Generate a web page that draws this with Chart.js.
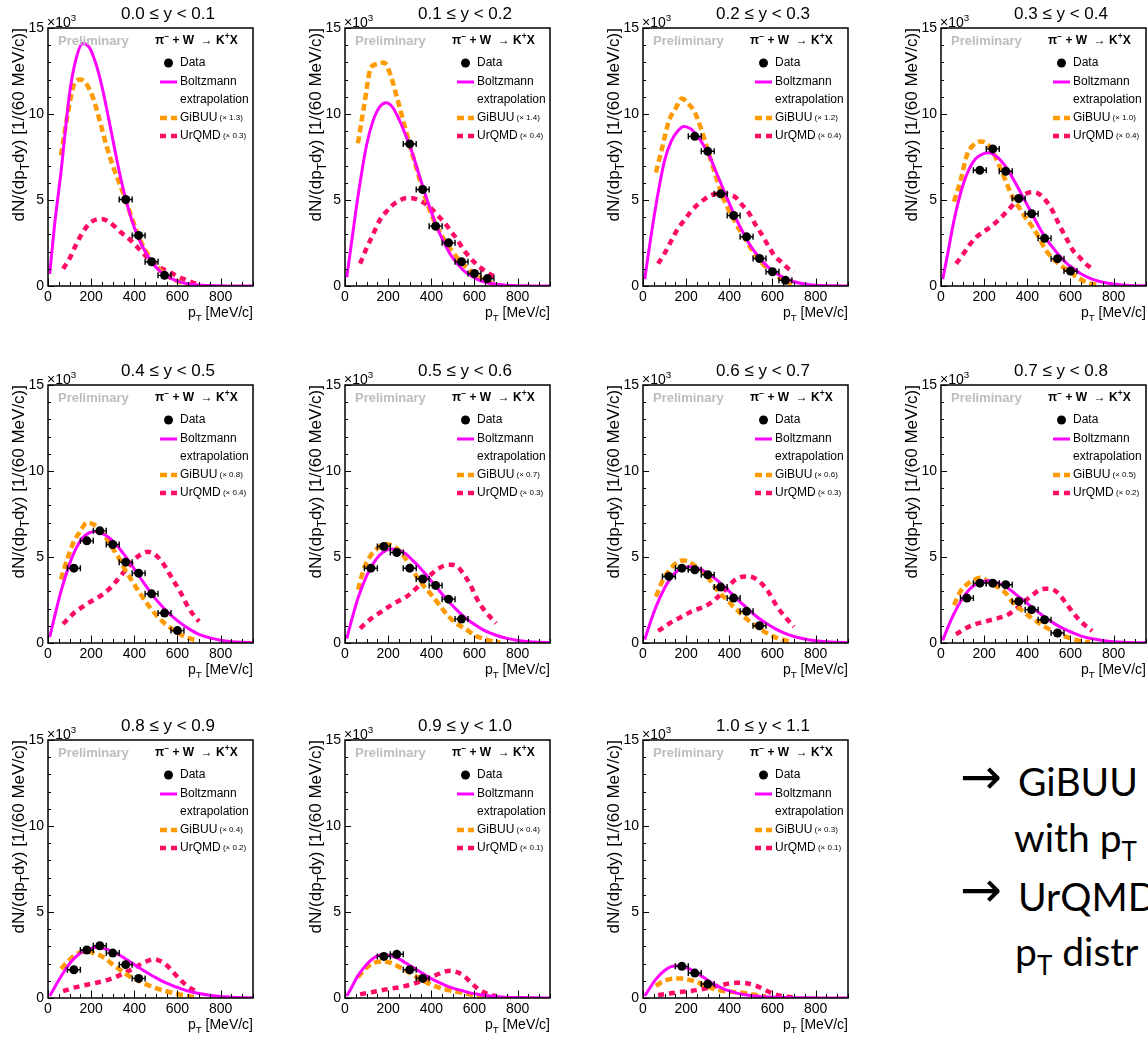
<!DOCTYPE html>
<html><head><meta charset="utf-8">
<script src="https://cdn.jsdelivr.net/npm/chart.js"></script>
<style>
html,body{margin:0;padding:0;background:#fff;}
body{width:1148px;height:1040px;overflow:hidden;position:relative;}
.panel{position:absolute;width:298px;height:330px;}
.note{position:absolute;font-family:Lato,'Open Sans',sans-serif;font-size:39px;color:#000;white-space:nowrap;line-height:1;}
.note sub{font-size:26px;vertical-align:-9px;line-height:0;}
.arrow{position:absolute;font-family:'DejaVu Sans',sans-serif;font-size:50px;color:#000;line-height:1;}
</style></head><body>
<div class="arrow" style="left:960px;top:752px;">→</div>
<div class="note" style="left:1018px;top:762px;">GiBUU</div>
<div class="note" style="left:1014px;top:818px;">with p<sub>T</sub></div>
<div class="arrow" style="left:960px;top:865px;">→</div>
<div class="note" style="left:1018px;top:877px;">UrQMD</div>
<div class="note" style="left:1015px;top:932px;">p<sub>T</sub> distr</div>
<script>
// ---------------- data ----------------
const RAPIDITY_BINS = ['0.0 ≤ y < 0.1','0.1 ≤ y < 0.2','0.2 ≤ y < 0.3','0.3 ≤ y < 0.4','0.4 ≤ y < 0.5','0.5 ≤ y < 0.6','0.6 ≤ y < 0.7','0.7 ≤ y < 0.8','0.8 ≤ y < 0.9','0.9 ≤ y < 1.0','1.0 ≤ y < 1.1'];
const GIBUU_FACTOR = ['1.3','1.4','1.2','1.0','0.8','0.7','0.6','0.5','0.4','0.4','0.3'];
const URQMD_FACTOR = ['0.3','0.4','0.4','0.4','0.4','0.3','0.3','0.2','0.2','0.1','0.1'];

const DATA_PT = [
  [360,420,480,540],
  [300,360,420,480,540,600,660],
  [240,300,360,420,480,540,600,660],
  [180,240,300,360,420,480,540,600],
  [120,180,240,300,360,420,480,540,600],
  [120,180,240,300,360,420,480,540],
  [120,180,240,300,360,420,480,540],
  [120,180,240,300,360,420,480,540],
  [120,180,240,300,360,420],
  [180,240,300,360],
  [180,240,300]
];
const DATA_YIELD = [
  [5.03,2.94,1.41,0.62],
  [8.26,5.61,3.48,2.51,1.41,0.73,0.43],
  [8.7,7.83,5.36,4.10,2.86,1.60,0.83,0.33],
  [6.73,7.97,6.67,5.09,4.20,2.77,1.59,0.87],
  [4.35,5.94,6.52,5.73,4.70,4.06,2.86,1.74,0.72],
  [4.35,5.61,5.26,4.35,3.72,3.35,2.55,1.39],
  [3.87,4.35,4.26,3.97,3.25,2.61,1.84,1.00],
  [2.61,3.48,3.48,3.39,2.42,1.94,1.35,0.58],
  [1.64,2.79,3.04,2.61,1.94,1.14],
  [2.42,2.54,1.64,1.14],
  [1.84,1.45,0.81]
];
const PT_HALF_BIN = 30;

const BOLTZ_PT = [8,30,60,100,130,160,190,220,250,280,310,340,370,400,430,460,490,520,550,580,610,650,700,750,800,850,900,950];
const BOLTZ_YIELD = [
  [0.7,3.5,6.6,11.2,13.2,14.1,13.9,13.0,11.6,9.8,7.9,6.1,4.6,3.4,2.5,1.8,1.25,0.85,0.57,0.38,0.24,0.13,0.06,0.03,0.01,0.005,0,0],
  [0.5,2.5,5.2,8.2,9.6,10.4,10.65,10.4,9.7,8.8,7.8,6.6,5.4,4.3,3.3,2.5,1.8,1.3,0.9,0.62,0.4,0.22,0.1,0.05,0.02,0.01,0,0],
  [0.4,2.3,4.7,7.3,8.4,9.0,9.28,9.15,8.75,8.2,7.5,6.6,5.7,4.8,3.95,3.2,2.5,1.95,1.5,1.1,0.8,0.5,0.25,0.12,0.05,0.02,0.01,0],
  [0.4,1.8,3.8,5.8,6.8,7.4,7.65,7.74,7.6,7.25,6.75,6.1,5.4,4.7,4.0,3.3,2.7,2.2,1.75,1.35,1.05,0.7,0.4,0.22,0.11,0.05,0.02,0.01],
  [0.35,1.5,3.0,4.6,5.5,6.1,6.4,6.48,6.38,6.15,5.8,5.35,4.85,4.3,3.75,3.2,2.7,2.25,1.85,1.5,1.2,0.85,0.5,0.3,0.16,0.08,0.04,0.02],
  [0.25,1.3,2.6,3.9,4.6,5.1,5.38,5.46,5.38,5.2,4.85,4.48,4.05,3.6,3.15,2.7,2.28,1.9,1.55,1.25,1.0,0.7,0.45,0.27,0.15,0.08,0.04,0.02],
  [0.2,1.05,2.1,3.2,3.8,4.2,4.38,4.44,4.35,4.2,3.97,3.68,3.35,3.0,2.63,2.28,1.93,1.6,1.32,1.07,0.85,0.6,0.38,0.23,0.13,0.07,0.04,0.02],
  [0.15,0.85,1.7,2.6,3.1,3.4,3.57,3.62,3.55,3.4,3.18,2.9,2.6,2.3,2.0,1.7,1.42,1.17,0.95,0.76,0.6,0.4,0.25,0.15,0.08,0.04,0.02,0.01],
  [0.12,0.6,1.25,2.0,2.4,2.7,2.85,2.93,2.9,2.8,2.63,2.43,2.19,1.94,1.7,1.47,1.25,1.04,0.86,0.7,0.57,0.4,0.26,0.16,0.09,0.05,0.02,0.01],
  [0.12,0.6,1.3,1.95,2.3,2.48,2.5,2.42,2.27,2.05,1.82,1.58,1.35,1.13,0.94,0.77,0.62,0.5,0.4,0.3,0.23,0.15,0.09,0.05,0.03,0.02,0.01,0],
  [0.12,0.55,1.1,1.6,1.82,1.88,1.82,1.66,1.45,1.2,0.95,0.73,0.55,0.41,0.3,0.22,0.16,0.11,0.08,0.06,0.04,0.03,0.02,0.01,0.01,0,0,0]
];

const GIBUU_PT = [60,90,120,150,180,210,240,270,300,330,360,390,420,450,480,510,540,570,600,630,660,690,720];
const GIBUU_YIELD = [
  [7.6,9.9,11.7,12.0,11.7,10.9,9.6,8.2,7.0,6.0,5.0,3.9,2.9,2.1,1.5,1.05,0.7,0.45,0.28,0.15,0.07,0.03,null],
  [8.3,10.6,12.7,12.9,13.0,12.3,11.0,9.6,8.2,6.9,5.6,4.5,3.6,2.9,2.3,1.8,1.35,1.0,0.7,0.45,0.25,0.1,null],
  [6.6,8.1,9.6,10.3,10.9,10.6,10.1,9.1,7.9,6.7,5.5,4.6,3.9,3.2,2.6,2.0,1.5,1.1,0.8,0.5,0.3,0.12,null],
  [4.9,6.1,7.6,8.2,8.4,8.3,7.8,7.0,6.1,5.2,4.6,4.0,3.5,2.9,2.2,1.7,1.35,1.05,0.8,0.5,0.3,0.15,0.08],
  [3.7,4.9,5.9,6.5,7.0,6.9,6.6,6.1,5.5,4.9,4.2,3.6,3.0,2.45,1.95,1.5,1.15,0.85,0.6,0.4,0.25,0.15,null],
  [3.1,4.4,5.1,5.5,5.75,5.7,5.5,5.1,4.5,3.9,3.4,2.95,2.5,2.0,1.55,1.2,0.95,0.72,0.45,0.3,0.18,0.08,0.03],
  [2.7,3.6,4.2,4.6,4.8,4.75,4.5,4.25,3.85,3.3,2.85,2.5,2.1,1.75,1.4,1.1,0.85,0.6,0.4,0.25,0.15,0.07,null],
  [2.2,3.0,3.4,3.65,3.8,3.65,3.4,3.2,2.9,2.4,2.05,1.75,1.45,1.2,0.95,0.75,0.55,0.4,0.28,0.17,0.09,0.04,null],
  [1.7,2.1,2.45,2.65,2.7,2.62,2.48,2.25,1.95,1.68,1.4,1.18,1.0,0.82,0.67,0.53,0.42,0.32,0.23,0.15,0.09,0.04,null],
  [1.2,1.65,1.95,2.1,2.12,2.05,1.88,1.68,1.47,1.25,1.02,0.83,0.68,0.55,0.46,0.38,0.31,0.23,0.16,0.11,0.07,0.04,null],
  [0.7,0.95,1.08,1.13,1.13,1.07,0.97,0.82,0.66,0.52,0.43,0.38,0.35,0.32,0.27,0.2,0.14,0.09,null,null,null,null,null]
];

const URQMD_PT = [70,100,130,160,190,220,250,280,310,340,370,400,430,460,490,520,550,580,610,640,670,700];
const URQMD_YIELD = [
  [1.0,1.6,2.4,3.1,3.6,3.85,3.9,3.75,3.45,3.1,2.8,2.45,2.05,1.65,1.3,1.05,0.9,0.7,0.5,0.35,0.2,0.1],
  [1.3,2.2,3.0,3.8,4.3,4.7,4.95,5.1,5.1,5.0,4.8,4.5,4.1,3.7,3.2,2.7,2.1,1.65,1.25,0.95,0.7,0.5],
  [1.3,1.9,2.6,3.3,3.8,4.3,4.7,5.0,5.25,5.35,5.35,5.32,5.15,4.7,4.26,3.6,3.0,2.35,1.75,1.4,1.05,0.8],
  [1.3,1.8,2.35,2.8,3.1,3.35,3.65,4.0,4.4,4.8,5.15,5.4,5.45,5.3,4.9,4.3,3.5,2.8,2.1,1.7,1.3,1.0],
  [1.1,1.5,1.85,2.1,2.35,2.55,2.8,3.1,3.5,3.95,4.4,4.85,5.15,5.3,5.2,4.85,4.3,3.65,3.05,2.3,1.7,1.25],
  [0.85,1.2,1.5,1.75,2.0,2.25,2.45,2.65,2.95,3.3,3.65,4.0,4.3,4.5,4.55,4.45,4.0,3.4,2.6,2.0,1.55,1.15],
  [0.7,0.95,1.2,1.4,1.6,1.8,1.95,2.1,2.3,2.6,2.95,3.35,3.7,3.85,3.87,3.75,3.45,3.0,2.35,1.8,1.35,0.95],
  [0.5,0.75,0.95,1.1,1.2,1.3,1.4,1.5,1.65,1.9,2.2,2.55,2.85,3.1,3.15,3.1,2.8,2.3,1.8,1.35,1.0,0.7],
  [0.4,0.52,0.63,0.72,0.8,0.88,0.96,1.07,1.2,1.37,1.55,1.75,1.97,2.15,2.25,2.15,1.9,1.5,1.1,0.75,0.5,0.3],
  [0.22,0.28,0.35,0.42,0.5,0.56,0.62,0.7,0.8,0.92,1.07,1.22,1.38,1.53,1.58,1.5,1.3,0.95,0.6,0.35,0.2,0.1],
  [0.17,0.22,0.28,0.33,0.37,0.41,0.46,0.53,0.61,0.69,0.77,0.84,0.88,0.88,0.83,0.73,0.57,0.38,0.22,0.12,0.07,0.04]
];

const X_TICKS = [0,200,400,600,800];
const Y_TICKS = [0,5,10,15];
const X_MAX = 950, Y_MAX = 15;
const X_MINOR = 50, Y_MINOR = 1;

// ---------------- layout / style ----------------
const COL_LEFT = [48,345,643,941];
const ROW_TOP = [28,385,740];
const PLOT_W = 205, PLOT_H = 258, AXIS_W = 48, TOP_PAD = 28;
const CANVAS_W = 298, CANVAS_H = 330;
const FONT = "'Liberation Sans', Arial, Helvetica, sans-serif";
const C_BOLTZ = '#ff00ff', C_GIBUU = '#ff9a00', C_URQMD = '#ff0a66';
const DASH_GIBUU = [7,4], DASH_URQMD = [6,5];

function zip(xs, ys){ const out=[]; xs.forEach((x,k)=>{ if(ys[k]!==null && ys[k]!==undefined) out.push({x:x,y:ys[k]}); }); return out; }

function drawRich(ctx, segs, x, y, align, baseSize, weight){
  const w = segs.map(s=>{ ctx.font = (weight||'') + ' ' + (s.mode? baseSize*0.7 : (s.size||baseSize)) + 'px ' + FONT; return ctx.measureText(s.t).width; });
  const total = w.reduce((a,b)=>a+b,0);
  let cx = align==='right' ? x-total : align==='center' ? x-total/2 : x;
  segs.forEach((s,k)=>{
    const sz = s.mode? baseSize*0.7 : (s.size||baseSize);
    ctx.font = (weight||'') + ' ' + sz + 'px ' + FONT;
    let dy = 0;
    if (s.mode==='sub') dy = baseSize*0.3;
    if (s.mode==='sup') dy = -baseSize*0.4;
    ctx.fillText(s.t, cx, y+dy);
    cx += w[k];
  });
  return total;
}

const rootStyle = {
  id:'rootStyle',
  afterDatasetsDraw(chart, args, opts){
    const i = opts.index, ctx = chart.ctx, xs = chart.scales.x, ys = chart.scales.y;
    ctx.save();
    ctx.strokeStyle = '#000'; ctx.lineWidth = 1.4;
    DATA_PT[i].forEach((pt,k)=>{
      const py = ys.getPixelForValue(DATA_YIELD[i][k]);
      const x0 = xs.getPixelForValue(pt-PT_HALF_BIN), x1 = xs.getPixelForValue(pt+PT_HALF_BIN);
      ctx.beginPath();
      ctx.moveTo(x0,py); ctx.lineTo(x1,py);
      ctx.moveTo(x0,py-3); ctx.lineTo(x0,py+3);
      ctx.moveTo(x1,py-3); ctx.lineTo(x1,py+3);
      ctx.stroke();
    });
    ctx.restore();
  },
  afterDraw(chart, args, opts){
    const i = opts.index, ctx = chart.ctx, a = chart.chartArea, xs = chart.scales.x, ys = chart.scales.y;
    const L = a.left, T = a.top, R = a.right, B = a.bottom;
    ctx.save();
    // frame
    ctx.strokeStyle = '#000'; ctx.lineWidth = 1.5;
    ctx.strokeRect(L, T, R-L, B-T);
    // inner ticks
    ctx.lineWidth = 1;
    ctx.beginPath();
    for (let v=0; v<=X_MAX; v+=X_MINOR){
      const px = Math.round(xs.getPixelForValue(v))+0.5;
      const len = (v % 200 === 0) ? 7.5 : 4;
      ctx.moveTo(px, B); ctx.lineTo(px, B-len);
    }
    for (let v=0; v<=Y_MAX; v+=Y_MINOR){
      const py = Math.round(ys.getPixelForValue(v))+0.5;
      const len = (v % 5 === 0) ? 6 : 3;
      ctx.moveTo(L, py); ctx.lineTo(L+len, py);
    }
    ctx.stroke();

    ctx.fillStyle = '#000';
    // x tick labels placed through the x scale
    ctx.textAlign = 'center'; ctx.textBaseline = 'middle';
    ctx.font = '14px ' + FONT;
    X_TICKS.forEach(v=>{ ctx.fillText(String(v), xs.getPixelForValue(v), B + 11); });

    ctx.textBaseline = 'alphabetic';
    // panel title
    ctx.textAlign = 'center';
    ctx.font = '17px ' + FONT;
    ctx.fillText(RAPIDITY_BINS[i], L + 120, T - 9);
    ctx.textAlign = 'left';
    // x10^3
    drawRich(ctx, [{t:'×10'},{t:'3', mode:'sup'}], L-1, T-1.5, 'left', 14);
    // y axis title (rotated)
    ctx.save();
    ctx.translate(L-24, T);
    ctx.rotate(-Math.PI/2);
    drawRich(ctx, [{t:'dN/(dp'},{t:'T',mode:'sub'},{t:'dy) [1/(60 MeV/c)]'}], 0, 0, 'right', 17);
    ctx.restore();
    // x axis title
    drawRich(ctx, [{t:'p'},{t:'T',mode:'sub'},{t:' [MeV/c]'}], R, B+31, 'right', 14);

    // Preliminary + reaction
    ctx.textBaseline = 'middle';
    ctx.fillStyle = '#bdbdbd';
    ctx.font = 'bold 13px ' + FONT;
    ctx.fillText('Preliminary', L+10, T+13);
    ctx.fillStyle = '#000';
    drawRich(ctx, [{t:'π'},{t:'−',mode:'sup'},{t:' + W  → K'},{t:'+',mode:'sup'},{t:'X'}], L+107, T+13, 'left', 12, 'bold');

    // legend
    const lx0 = L+112, lx1 = L+129, tx = L+132;
    ctx.font = '12px ' + FONT;
    ctx.beginPath(); ctx.arc(L+120.5, T+35, 4.5, 0, Math.PI*2); ctx.fill();
    ctx.fillText('Data', tx, T+35);
    ctx.strokeStyle = C_BOLTZ; ctx.lineWidth = 3; ctx.setLineDash([]);
    ctx.beginPath(); ctx.moveTo(lx0, T+54); ctx.lineTo(lx1, T+54); ctx.stroke();
    ctx.fillText('Boltzmann', tx, T+54);
    ctx.fillText('extrapolation', tx, T+72);
    ctx.strokeStyle = C_GIBUU; ctx.lineWidth = 4.5; ctx.setLineDash(DASH_GIBUU);
    ctx.beginPath(); ctx.moveTo(lx0, T+90); ctx.lineTo(lx1, T+90); ctx.stroke();
    drawRich(ctx, [{t:'GiBUU'},{t:' (× '+GIBUU_FACTOR[i]+')', size:8}], tx, T+90, 'left', 12);
    ctx.strokeStyle = C_URQMD; ctx.setLineDash(DASH_URQMD);
    ctx.beginPath(); ctx.moveTo(lx0, T+108); ctx.lineTo(lx1, T+108); ctx.stroke();
    drawRich(ctx, [{t:'UrQMD'},{t:' (× '+URQMD_FACTOR[i]+')', size:8}], tx, T+108, 'left', 12);
    ctx.restore();
  }
};

function makePanel(i){
  const col = i % 4, row = Math.floor(i / 4);
  const div = document.createElement('div');
  div.className = 'panel';
  div.style.left = (COL_LEFT[col] - AXIS_W) + 'px';
  div.style.top = (ROW_TOP[row] - TOP_PAD) + 'px';
  const cv = document.createElement('canvas');
  cv.width = CANVAS_W; cv.height = CANVAS_H;
  cv.style.width = CANVAS_W + 'px'; cv.style.height = CANVAS_H + 'px';
  div.appendChild(cv);
  document.body.appendChild(div);

  new Chart(cv, {
    type: 'line',
    data: { datasets: [
      { label:'Data', data: zip(DATA_PT[i], DATA_YIELD[i]), showLine:false, pointRadius:4.5, pointHoverRadius:4.5,
        pointBackgroundColor:'#000', pointBorderColor:'#000', pointBorderWidth:0, order:0 },
      { label:'Boltzmann extrapolation', data: zip(BOLTZ_PT, BOLTZ_YIELD[i]), borderColor:C_BOLTZ, borderWidth:3,
        pointRadius:0, cubicInterpolationMode:'monotone', fill:false, order:1 },
      { label:'GiBUU', data: zip(GIBUU_PT, GIBUU_YIELD[i]), borderColor:C_GIBUU, borderWidth:4.5, borderDash:DASH_GIBUU,
        pointRadius:0, cubicInterpolationMode:'monotone', fill:false, order:2 },
      { label:'UrQMD', data: zip(URQMD_PT, URQMD_YIELD[i]), borderColor:C_URQMD, borderWidth:4.5, borderDash:DASH_URQMD,
        pointRadius:0, cubicInterpolationMode:'monotone', fill:false, order:3 }
    ]},
    options: {
      responsive:false, maintainAspectRatio:false, animation:false, devicePixelRatio:1,
      events:[],
      layout:{ padding:{ left:0, top:TOP_PAD, right:CANVAS_W-AXIS_W-PLOT_W, bottom:0 } },
      plugins:{ legend:{display:false}, tooltip:{enabled:false}, title:{display:false}, rootStyle:{index:i} },
      scales:{
        x:{ type:'linear', min:0, max:X_MAX,
            afterBuildTicks:s=>{ s.ticks = X_TICKS.map(v=>({value:v})); },
            afterFit:s=>{ s.height = CANVAS_H - TOP_PAD - PLOT_H; },
            grid:{display:false, drawTicks:false}, border:{display:false},
            ticks:{ display:false } },
        y:{ type:'linear', min:0, max:Y_MAX,
            afterBuildTicks:s=>{ s.ticks = Y_TICKS.map(v=>({value:v})); },
            afterFit:s=>{ s.width = AXIS_W; },
            grid:{display:false, drawTicks:false}, border:{display:false},
            ticks:{ padding:4, color:'#000', font:{family:FONT, size:14}, autoSkip:false } }
      }
    },
    plugins:[rootStyle]
  });
}

for (let i=0; i<RAPIDITY_BINS.length; i++) makePanel(i);
</script>
</body></html>
